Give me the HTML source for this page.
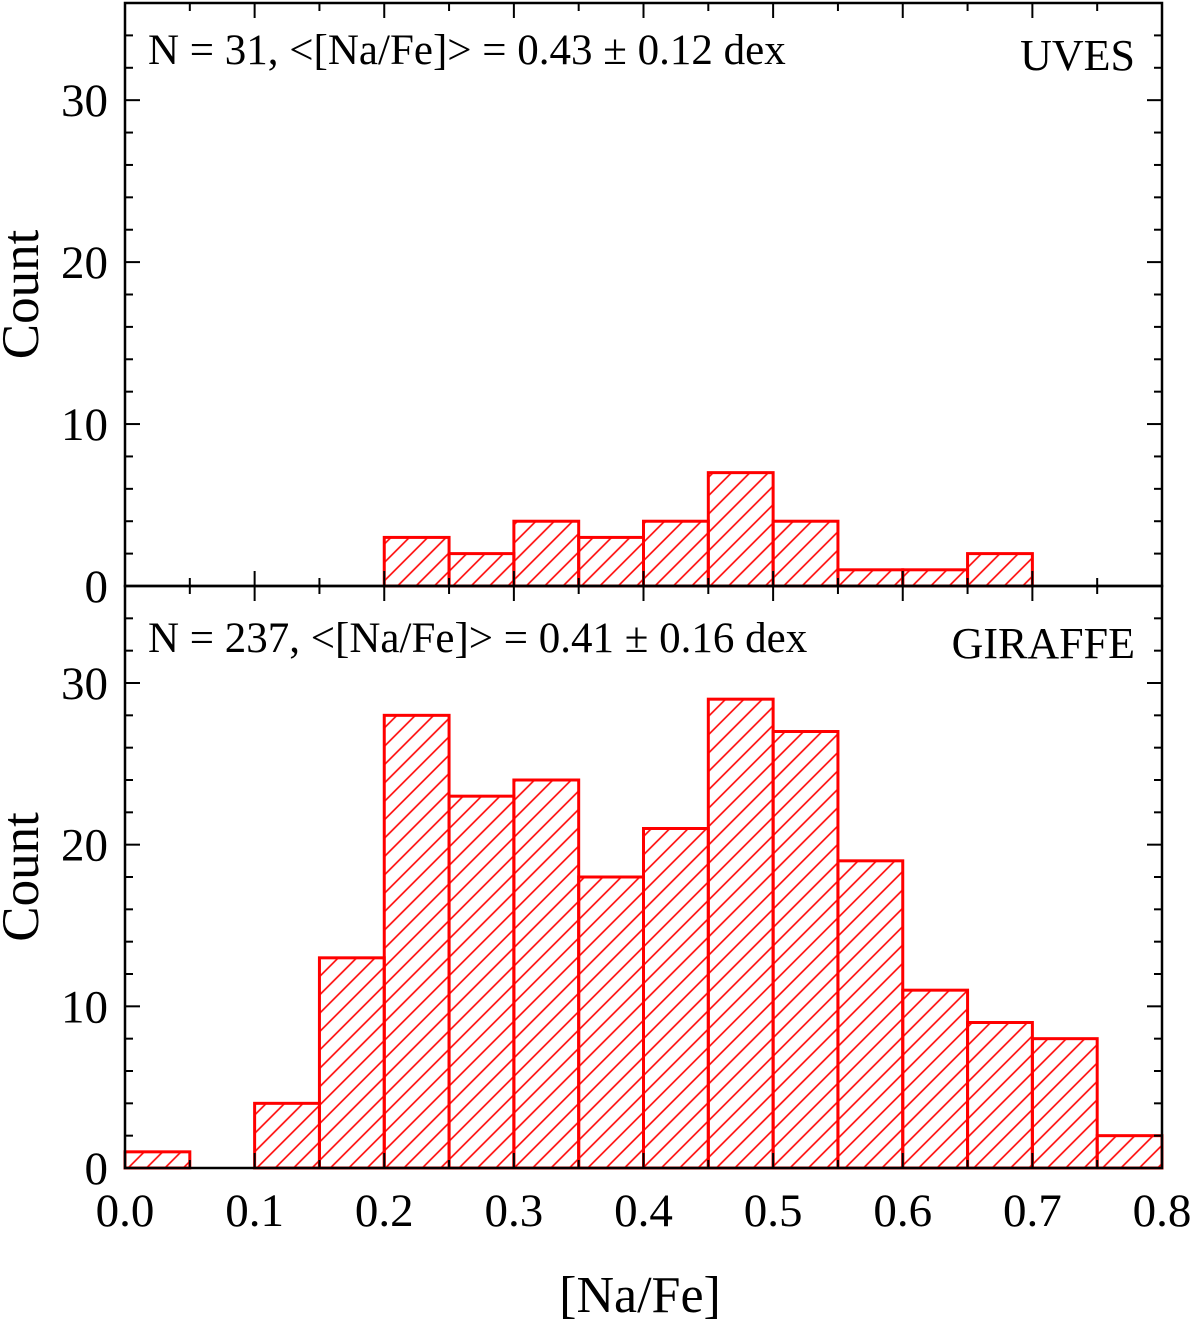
<!DOCTYPE html>
<html><head><meta charset="utf-8"><style>
body{margin:0;background:#fff}
svg text{font-family:"Liberation Serif",serif;fill:#000}
</style></head><body>
<svg id="c" width="1200" height="1322" viewBox="0 0 1200 1322" xmlns="http://www.w3.org/2000/svg">
<defs>
<pattern id="hatch" patternUnits="userSpaceOnUse" width="13" height="13" patternTransform="rotate(45)">
<line x1="6.5" y1="0" x2="6.5" y2="13" stroke="#ff0000" stroke-width="1.6"/>
</pattern>
</defs>
<g id="g"></g>
</svg>
<script>
const binStarts = [0.0,0.05,0.1,0.15,0.2,0.25,0.3,0.35,0.4,0.45,0.5,0.55,0.6,0.65,0.7,0.75];
const uvesCounts = [0,0,0,0,3,2,4,3,4,7,4,1,1,2,0,0];
const giraffeCounts = [1,0,4,13,28,23,24,18,21,29,27,19,11,9,8,2];
const xTickLabels = ["0.0","0.1","0.2","0.3","0.4","0.5","0.6","0.7","0.8"];
const yTickLabels = ["0","10","20","30"];
const binWidth = 0.05;

const NS="http://www.w3.org/2000/svg";
const g=document.getElementById('g');
const X0=125,X1=1162;
const x=v=>X0+(v/0.8)*(X1-X0);
const panels=[{top:3,bot:586,counts:uvesCounts,name:'uves',label:'N = 31, <[Na/Fe]> = 0.43 ± 0.12 dex',tag:'UVES',ty:64},
{top:586,bot:1168,counts:giraffeCounts,name:'giraffe',label:'N = 237, <[Na/Fe]> = 0.41 ± 0.16 dex',tag:'GIRAFFE',ty:652}];
function mk(t,a,p){const e=document.createElementNS(NS,t);for(const k in a)e.setAttribute(k,a[k]);(p||g).appendChild(e);return e;}
panels.forEach(P=>{
  const y=v=>P.bot-(v/36)*(P.bot-P.top);
  const grp=mk('g',{});
  
  
  P.counts.forEach((c,i)=>{
    if(c<=0)return;
    const r=mk('rect',{x:x(binStarts[i]),y:y(c),width:x(binStarts[i]+binWidth)-x(binStarts[i]),height:y(0)-y(c),fill:'url(#hatch)',stroke:'#ff0000','stroke-width':3},grp);
    
    
  });
  const f=mk('rect',{x:X0,y:P.top,width:X1-X0,height:P.bot-P.top,fill:'none',stroke:'#000','stroke-width':2.5},grp);
  
  
  for(let v=0;v<=36;v+=2){
    const L=(v%10===0)?15:8, yy=y(v);
    mk('line',{x1:X0,x2:X0+L,y1:yy,y2:yy,stroke:'#000','stroke-width':2},grp);
    mk('line',{x1:X1,x2:X1-L,y1:yy,y2:yy,stroke:'#000','stroke-width':2},grp);
  }
  yTickLabels.forEach(s=>{
    const t=mk('text',{x:X0-17,y:y(+s)+16,'font-size':47,'text-anchor':'end'},grp);t.textContent=s;
    
    
  });
  for(let i=0;i<=16;i++){
    const L=(i%2===0)?15:8, xx=x(i*0.05);
    mk('line',{x1:xx,x2:xx,y1:P.bot,y2:P.bot-L,stroke:'#000','stroke-width':2},grp);
    mk('line',{x1:xx,x2:xx,y1:P.top,y2:P.top+L,stroke:'#000','stroke-width':2},grp);
  }
  const yl=mk('text',{x:0,y:0,'font-size':53,'text-anchor':'middle',transform:`translate(38 ${(P.top+P.bot)/2}) rotate(-90)`},grp);
  yl.textContent='Count';
  
  
  const a=mk('text',{x:148,y:P.ty,'font-size':43},grp);a.textContent=P.label;
  
  
  const b=mk('text',{x:1135,y:P.ty+6,'font-size':44,'text-anchor':'end'},grp);b.textContent=P.tag;
  
  
});
xTickLabels.forEach(s=>{
  const t=mk('text',{x:x(+s),y:1226,'font-size':47,'text-anchor':'middle'});t.textContent=s;
  
  
});
const xt=mk('text',{x:640,y:1312,'font-size':52,'text-anchor':'middle'});xt.textContent='[Na/Fe]';


</script>
</body></html>
